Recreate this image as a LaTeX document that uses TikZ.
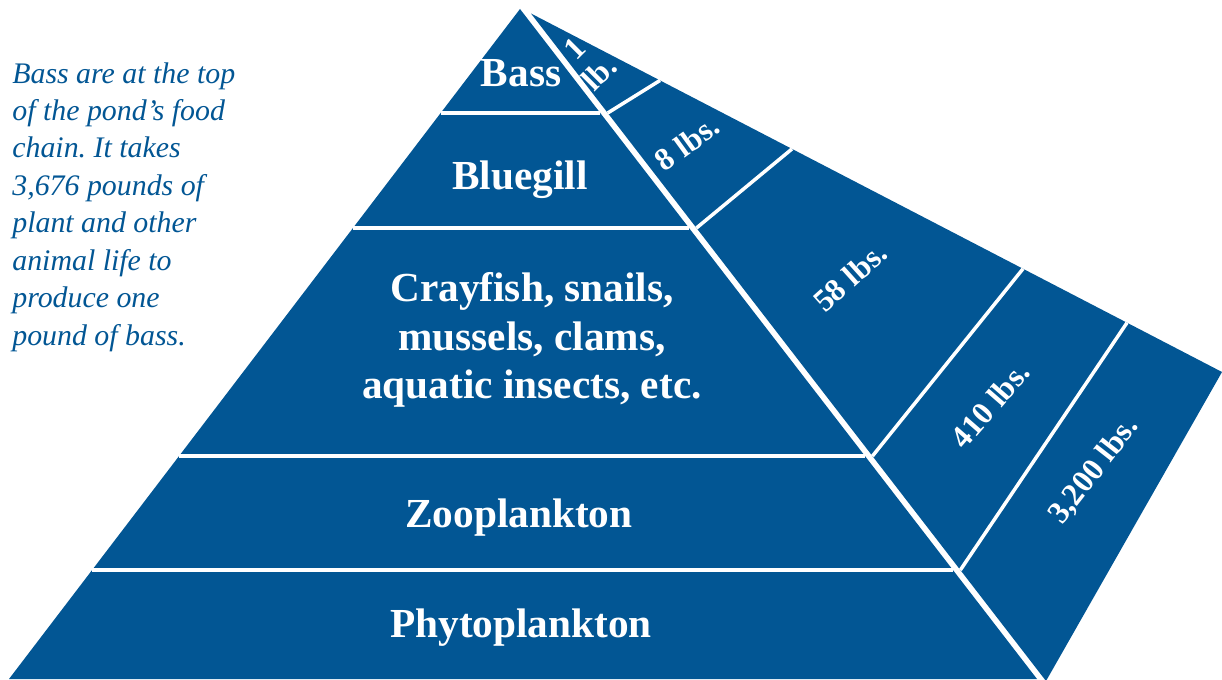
\documentclass[tikz,border=0pt]{standalone}
\usepackage{fontspec}
\setmainfont{Liberation Serif}
\usepackage{xcolor}
\usetikzlibrary{calc}
\frenchspacing

\definecolor{pondblue}{RGB}{2,86,148}

\begin{document}
\begin{tikzpicture}[
    x=0.02cm, y=-0.02cm,
    block/.style={fill=pondblue, draw=none},
    divider/.style={draw=white, line width=2pt},
    level/.style={text=white, font=\bfseries\fontsize{23.5}{27.5}\selectfont, align=center, inner sep=0pt},
    weight/.style={text=white, font=\bfseries\fontsize{18}{20}\selectfont, align=center, inner sep=0pt},
    note/.style={text=pondblue, font=\itshape\fontsize{17}{21.3}\selectfont, align=left, inner sep=0pt, anchor=north west}
]
    \useasboundingbox (0,0) rectangle (1222,679);

    % ================= CORNERS =================
    \coordinate (apex) at (520,9);
    \coordinate (botL) at (9,679);
    \coordinate (botR) at (1037,679);

    \coordinate (stripTop) at (531,13.5);
    \coordinate (stripEnd) at (1222,372);
    \coordinate (stripBot) at (1046,681);

    % ================= SHAPES =================
    \fill[block] (apex) -- (botR) -- (botL) -- cycle;
    \fill[block] (stripTop) -- (stripEnd) -- (stripBot) -- cycle;

    % ================= LEVEL LINES =================
    \draw[divider] ($(apex)!0.1552!(botL)$) -- ($(apex)!0.1552!(botR)$);
    \draw[divider] ($(apex)!0.3269!(botL)$) -- ($(apex)!0.3269!(botR)$);
    \draw[divider] ($(apex)!0.6672!(botL)$) -- ($(apex)!0.6672!(botR)$);
    \draw[divider] ($(apex)!0.8373!(botL)$) -- ($(apex)!0.8373!(botR)$);

    % ================= STRIP LINES =================
    \draw[divider] ($(stripTop)!0.149!(stripBot)$) -- ($(stripTop)!0.1867!(stripEnd)$);
    \draw[divider] ($(stripTop)!0.3213!(stripBot)$) -- ($(stripTop)!0.3777!(stripEnd)$);
    \draw[divider] ($(stripTop)!0.663!(stripBot)$) -- ($(stripTop)!0.712!(stripEnd)$);
    \draw[divider] ($(stripTop)!0.8337!(stripBot)$) -- ($(stripTop)!0.8625!(stripEnd)$);

    % ================= LEVELS =================
    \node[level] (bass) at (521,73) {Bass};
    \node[level] (bluegill) at (520,180) {Bluegill};
    \node[level] (crayfish) at (532,340) {Crayfish, snails,\\ mussels, clams,\\ aquatic insects, etc.};
    \node[level] (zoo) at (519,518) {Zooplankton};
    \node[level] (phyto) at (521,628) {Phytoplankton};

    % ================= WEIGHTS =================
    \node[weight, rotate=45] (w_bass) at (587,61) {1\\ lb.};
    \node[weight, rotate=36] (w_blue) at (687,143) {8 lbs.};
    \node[weight, rotate=42] (w_cray) at (850,277) {58 lbs.};
    \node[weight, rotate=49] (w_zoo) at (990,405) {410 lbs.};
    \node[weight, rotate=52] (w_phyto) at (1094,471) {3,200 lbs.};

    % ================= NOTE =================
    \node[note] (caption) at (12,62) {Bass are at the top\\ of the pond’s food\\ chain. It takes\\ 3,676 pounds of\\ plant and other\\ animal life to\\ produce one\\ pound of bass.};

\end{tikzpicture}
\end{document}
